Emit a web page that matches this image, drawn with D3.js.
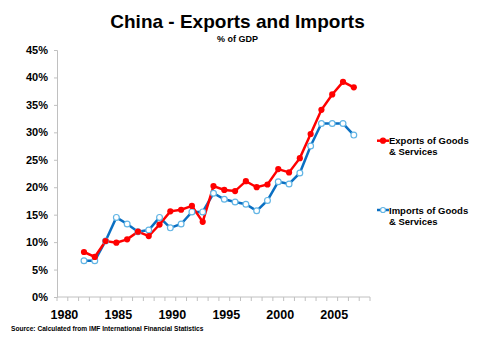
<!DOCTYPE html>
<html><head><meta charset="utf-8">
<script src="https://cdn.jsdelivr.net/npm/d3@7"></script>
<style>body{margin:0;background:#fff}svg{display:block}</style>
</head><body>
<svg id="c" width="500" height="350"></svg>
<script>
const years = [1982,1983,1984,1985,1986,1987,1988,1989,1990,1991,1992,1993,1994,1995,1996,1997,1998,1999,2000,2001,2002,2003,2004,2005,2006,2007];
const exportsPct = [8.2,7.3,10.2,9.9,10.5,11.9,11.1,13.2,15.6,15.9,16.6,13.7,20.2,19.5,19.3,21.1,20.0,20.5,23.3,22.7,25.3,29.7,34.1,36.9,39.2,38.2];
const importsPct = [6.6,6.6,10.2,14.5,13.3,11.9,12.2,14.5,12.6,13.3,15.5,15.5,18.9,17.8,17.3,16.9,15.7,17.6,21.0,20.6,22.6,27.5,31.6,31.6,31.6,29.5];
const categories = d3.range(1980, 2009);
const xLabels = [1980,1985,1990,1995,2000,2005];
const yTicks = [0,5,10,15,20,25,30,35,40,45];

const svg = d3.select("#c");
const font = "'Liberation Sans', Arial, sans-serif";
const L = 57, R = 370, T = 50, B = 297;

const x = d3.scaleBand().domain(categories).range([L, R]).padding(0);
const y = d3.scaleLinear().domain([0,45]).range([B, T]);
const cx = v => x(v) + x.bandwidth()/2;

// title
svg.append("text").attr("x",237.5).attr("y",28).attr("text-anchor","middle")
  .attr("font-family",font).attr("font-weight","bold").attr("font-size",19)
  .text("China - Exports and Imports");
svg.append("text").attr("x",237.5).attr("y",42).attr("text-anchor","middle")
  .attr("font-family",font).attr("font-weight","bold").attr("font-size",9)
  .text("% of GDP");

// y axis
const yAxis = d3.axisLeft(y).tickValues(yTicks).tickSize(3).tickFormat(d => d + "%");
const gy = svg.append("g").attr("transform",`translate(${L},0)`).call(yAxis);
gy.select(".domain").attr("stroke","#c0c0c0");
gy.selectAll(".tick line").attr("stroke","#c0c0c0");
gy.selectAll(".tick text").attr("x",-9).attr("font-family",font).attr("font-weight","bold").attr("font-size",11).attr("fill","#000");

// x axis
const gx = svg.append("g").attr("transform",`translate(0,${B})`);
gx.append("line").attr("x1",L).attr("x2",R).attr("stroke","#c0c0c0");
const tickPos = categories.map(c => x(c)).concat([R]);
gx.selectAll("line.t").data(tickPos).join("line").attr("class","t")
  .attr("x1",d=>d).attr("x2",d=>d).attr("y1",0).attr("y2",4).attr("stroke","#c0c0c0");
gx.selectAll("text").data(xLabels).join("text")
  .attr("x",d=>cx(d)+2).attr("y",22).attr("text-anchor","middle")
  .attr("font-family",font).attr("font-weight","bold").attr("font-size",12.5)
  .text(d=>d);

// lines
const line = d3.line().x((d,i)=>cx(years[i])).y(d=>y(d));
svg.append("path").datum(importsPct).attr("d",line).attr("fill","none")
  .attr("stroke","#0a6fc2").attr("stroke-width",2.5);
svg.append("path").datum(exportsPct).attr("d",line).attr("fill","none")
  .attr("stroke","#ff0000").attr("stroke-width",2.5);
svg.selectAll("circle.imp").data(importsPct).join("circle").attr("class","imp")
  .attr("cx",(d,i)=>cx(years[i])).attr("cy",d=>y(d)).attr("r",2.9)
  .attr("fill","#fff").attr("stroke","#62b5e5").attr("stroke-width",1.2);
svg.selectAll("circle.exp").data(exportsPct).join("circle").attr("class","exp")
  .attr("cx",(d,i)=>cx(years[i])).attr("cy",d=>y(d)).attr("r",3.1)
  .attr("fill","#ff0000");

// legend
function legend(yc, color, filled, lines){
  svg.append("line").attr("x1",377).attr("x2",389).attr("y1",yc).attr("y2",yc)
    .attr("stroke",color).attr("stroke-width",2.5);
  svg.append("circle").attr("cx",383).attr("cy",yc).attr("r",2.5)
    .attr("fill",filled?color:"#fff").attr("stroke",filled?color:"#62b5e5").attr("stroke-width",1.2);
  lines.forEach((t,i)=>svg.append("text").attr("x",389).attr("y",yc+3.5+i*11)
    .attr("font-family",font).attr("font-weight","bold").attr("font-size",9.5)
    .text(t));
}
legend(140.7,"#ff0000",true,["Exports of Goods","& Services"]);
legend(210,"#0a6fc2",false,["Imports of Goods","& Services"]);

// source
svg.append("text").attr("x",11).attr("y",331).attr("font-family",font)
  .attr("font-weight","bold").attr("font-size",6.6)
  .text("Source: Calculated from IMF International Financial  Statistics");
</script>
</body></html>
